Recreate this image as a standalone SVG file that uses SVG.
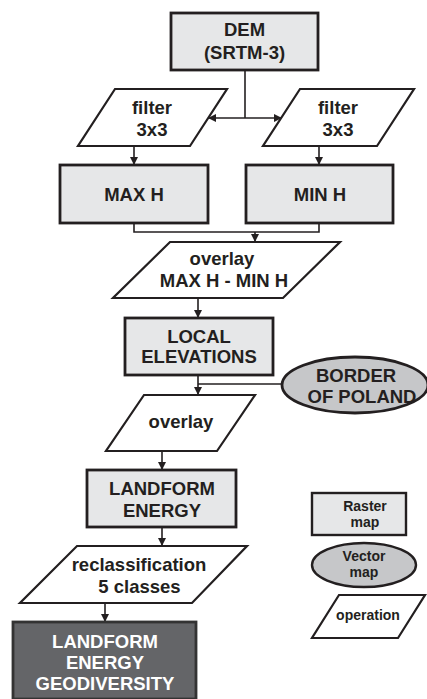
<svg xmlns="http://www.w3.org/2000/svg" width="427" height="699" viewBox="0 0 427 699">
<defs>
<marker id="ah" viewBox="0 0 10 10" refX="10" refY="5" markerWidth="9" markerHeight="8" markerUnits="userSpaceOnUse" orient="auto">
<path d="M0,0 L10,5 L0,10 Z" fill="#231f20"/>
</marker>
<style>
.box{fill:#e6e7e8;stroke:#231f20;stroke-width:2.8}
.dark{fill:#646568;stroke:#333;stroke-width:2.8}
.op{fill:#fff;stroke:#231f20;stroke-width:2.2;stroke-linejoin:miter}
.vec{fill:#c6c7c9;stroke:#231f20;stroke-width:2.8}
.ln{fill:none;stroke:#231f20;stroke-width:1.6}
.arr{fill:none;stroke:#231f20;stroke-width:1.6;marker-end:url(#ah)}
text{font-family:"Liberation Sans",Arial,sans-serif;font-weight:bold;font-size:18.5px;fill:#231f20;text-anchor:middle}
.w{fill:#fff}
.s{font-size:14px}
</style>
</defs>
<rect width="427" height="699" fill="#fff"/>
<g id="connectors">
<line class="ln" x1="245" y1="70" x2="245" y2="118"/>
<line class="arr" x1="245" y1="118" x2="208" y2="118"/>
<line class="arr" x1="245" y1="118" x2="282" y2="118"/>
<line class="arr" x1="134" y1="146" x2="134" y2="165"/>
<line class="arr" x1="319" y1="146" x2="319" y2="165"/>
<polyline class="ln" points="134,223 134,232 319,232 319,223"/>
<line class="arr" x1="255" y1="232" x2="255" y2="242"/>
<line class="arr" x1="198" y1="298" x2="198" y2="318"/>
<line class="arr" x1="198" y1="375" x2="198" y2="395"/>
<line class="ln" x1="198" y1="384" x2="283" y2="384"/>
<line class="arr" x1="162" y1="451" x2="162" y2="470"/>
<line class="arr" x1="162" y1="527" x2="162" y2="546"/>
<line class="arr" x1="105" y1="603" x2="105" y2="622"/>
</g>
<g id="dem">
<rect class="box" x="171" y="13" width="147" height="57"/>
<text x="244.5" y="36">DEM</text>
<text x="244.5" y="58.5">(SRTM-3)</text>
</g>
<g id="filter-left">
<polygon class="op" points="115,89 227,89 190,146 78,146"/>
<text x="152" y="114">filter</text>
<text x="152" y="136">3x3</text>
</g>
<g id="filter-right">
<polygon class="op" points="300,89 414,89 377,146 263,146"/>
<text x="338" y="114">filter</text>
<text x="338" y="136">3x3</text>
</g>
<g id="max-h">
<rect class="box" x="60" y="165" width="148" height="58"/>
<text x="134" y="201">MAX H</text>
</g>
<g id="min-h">
<rect class="box" x="246" y="165" width="147" height="58"/>
<text x="320" y="201">MIN H</text>
</g>
<g id="overlay1">
<polygon class="op" points="170,242 340,242 283,298 113,298"/>
<text x="222" y="265">overlay</text>
<text x="224" y="287">MAX H - MIN H</text>
</g>
<g id="local-elevations">
<rect class="box" x="125" y="318" width="148" height="57"/>
<text x="199" y="343">LOCAL</text>
<text x="199" y="363">ELEVATIONS</text>
</g>
<g id="border-poland">
<ellipse class="vec" cx="355" cy="385" rx="73" ry="28"/>
<text x="356" y="382">BORDER</text>
<text x="362" y="403">OF POLAND</text>
</g>
<g id="overlay2">
<polygon class="op" points="144,395 255,395 217,451 106,451"/>
<text x="181" y="428">overlay</text>
</g>
<g id="landform-energy">
<rect class="box" x="87" y="470" width="149" height="57"/>
<text x="162" y="495">LANDFORM</text>
<text x="162" y="517">ENERGY</text>
</g>
<g id="reclassification">
<polygon class="op" points="77,546 247,546 192,603 20,603"/>
<text x="139" y="571">reclassification</text>
<text x="139.5" y="593">5 classes</text>
</g>
<g id="geodiversity">
<rect class="dark" x="13" y="622" width="183" height="77"/>
<text class="w" x="105" y="648">LANDFORM</text>
<text class="w" x="105" y="669">ENERGY</text>
<text class="w" x="105" y="690">GEODIVERSITY</text>
</g>
<g id="legend-raster">
<rect class="box" x="312" y="493" width="94" height="42" style="stroke-width:2.4"/>
<text class="s" x="365" y="510.5">Raster</text>
<text class="s" x="365" y="526.5">map</text>
</g>
<g id="legend-vector">
<ellipse class="vec" cx="364" cy="565" rx="52" ry="22" style="stroke-width:2.4"/>
<text class="s" x="364" y="561">Vector</text>
<text class="s" x="364" y="577">map</text>
</g>
<g id="legend-operation">
<polygon class="op" points="339,595 425,595 398,638 312,638"/>
<text class="s" x="368" y="620">operation</text>
</g>
</svg>
